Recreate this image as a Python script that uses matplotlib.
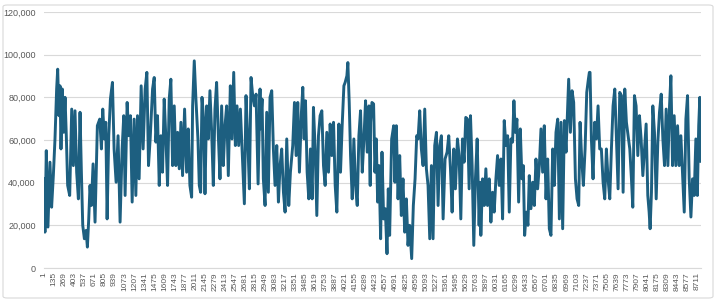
import matplotlib
matplotlib.use('Agg')
import matplotlib.pyplot as plt
from matplotlib.patches import FancyBboxPatch
from matplotlib.ticker import FuncFormatter

plt.rcParams['font.family'] = ['Liberation Sans', 'DejaVu Sans']

# hourly series (hour index, value in thousands)
hours = [1, 13, 31, 53, 80, 102, 125, 147, 169, 183, 200, 214, 227, 245, 263, 281, 298, 316, 343, 370,
         392, 414, 436, 459, 481, 499, 517, 539, 561, 579, 597, 614, 632, 655, 681, 712, 744, 766, 784, 806,
         824, 842, 864, 886, 913, 935, 962, 988, 1015, 1042, 1064, 1082, 1109, 1131, 1153, 1176, 1202, 1225,
         1247, 1269, 1296, 1322, 1349, 1372, 1394,
         1416, 1448, 1470, 1492, 1514, 1537, 1559, 1581, 1603, 1626, 1648, 1670, 1692, 1715, 1737, 1759, 1782,
         1804, 1826, 1848, 1875, 1902, 1924, 1946, 1969, 1982, 2004, 2026, 2053, 2071, 2089, 2107, 2129, 2147,
         2169, 2191, 2213, 2236, 2258, 2280, 2302, 2325, 2347, 2369, 2391, 2414, 2436, 2458, 2485, 2507, 2530,
         2552, 2574, 2596, 2619, 2650, 2672, 2694, 2717, 2739, 2761, 2783, 2806, 2828, 2855, 2881,
         2885, 2908, 2925, 2948, 2970, 2992, 3014, 3037, 3059, 3081, 3104, 3126, 3148, 3170, 3193, 3215, 3237,
         3264, 3286, 3317, 3340, 3362, 3384, 3406, 3433, 3451, 3469, 3487, 3509, 3531, 3553, 3576, 3593, 3616,
         3638, 3660, 3682, 3705, 3727, 3749, 3771, 3794, 3816, 3838, 3861, 3883, 3905, 3932, 3954, 3976, 3999,
         4016, 4039, 4052, 4070, 4088, 4110, 4132, 4154, 4177, 4199, 4221, 4244, 4266, 4288, 4310, 4333, 4350,
         4355, 4373, 4395, 4413, 4431, 4449, 4467, 4489, 4507, 4529, 4551, 4574, 4591, 4609, 4636, 4663, 4680,
         4698, 4721, 4743, 4765, 4787, 4810, 4832, 4854, 4876, 4903, 4925, 4948, 4970, 4988, 5010, 5032, 5055,
         5077, 5099, 5121, 5144, 5166, 5188, 5210, 5233, 5255, 5277, 5299, 5322, 5348, 5375, 5397, 5420, 5442,
         5464, 5486, 5513, 5535, 5558, 5580, 5602, 5624, 5647, 5669, 5687, 5709, 5731, 5753, 5776, 5802, 5815,
         5825, 5848, 5870, 5892, 5914, 5937, 5959, 5981, 6003, 6026, 6048, 6070, 6093, 6115, 6137, 6159, 6182,
         6204, 6226, 6248, 6266, 6284, 6306, 6329, 6351, 6373, 6391, 6409, 6431, 6453, 6471, 6493, 6516, 6538,
         6560, 6582, 6605, 6627, 6649, 6671, 6694, 6716, 6738, 6760, 6783, 6805, 6827, 6850, 6872, 6894, 6916,
         6939, 6961, 6983, 6996, 7019, 7041, 7063, 7086, 7108, 7130, 7148, 7170, 7192, 7215, 7237, 7259, 7272,
         7281, 7299, 7321, 7343, 7366, 7388, 7410, 7432, 7455, 7477, 7499, 7521, 7544, 7566, 7588, 7611, 7633,
         7655, 7677, 7700, 7722, 7744, 7766, 7789, 7811, 7833, 7851, 7873, 7895, 7918, 7940, 7962, 7985, 8007,
         8029, 8051, 8069, 8082, 8100, 8118, 8140, 8163, 8185, 8207, 8230, 8252, 8274, 8296, 8319, 8341, 8359,
         8381, 8403, 8425, 8448, 8470, 8492, 8514, 8537, 8559, 8581, 8603, 8626, 8648, 8670, 8692, 8712, 8730,
         8745, 8760]

load_k = [41.8, 16.8, 55, 19.2, 49.6, 28.5, 43.3, 60.5, 83.9, 93.2, 71.4, 85.4, 55.8, 83.9, 63.6, 80, 62, 38.7, 34, 74.5,
          48, 73.7, 44.9, 32.4, 73, 44.9, 20, 13.7, 17.6, 9.8, 23, 38.7, 29.3, 48.8, 21.5, 66.7, 69.8, 55.8, 74.5, 60.5,
          68.3, 23, 62, 79.2, 87, 55.8, 40.2, 62, 21.5, 55.8, 71.4, 34, 77.6, 62, 71.4, 30.9, 69.8, 34,
          71.4, 41.8, 85.4, 55.8, 83.9, 91.7, 48,
          60.5, 83.9, 89.3, 59, 71.4, 38.7, 62, 44.9, 79.2, 60.5, 38.7, 79.2, 88.5, 48, 76, 48, 63.6,
          46.5, 68.3, 43.3, 74.5, 44.9, 65.2, 38.7, 33.2, 76, 97.1, 79.2, 60.5, 38.7, 35.5, 80, 69.8, 34.8,
          76, 60.5, 83.1, 63.6, 38.7, 74.5, 87, 62, 41.8, 76, 48, 66.7, 76, 43.3, 85.4, 60.5, 91.7,
          57.4, 76, 57.4, 74.5, 48, 30.1, 80.8, 60.5, 37.1, 89.3, 80.8, 76, 81.5, 39.4, 83.9,
          65.2, 79.2, 41.8, 29.3, 73, 35.5, 80, 83.1, 55.8, 38.7, 57.4, 30.9, 48, 55.8, 35.5, 26.2, 60.5,
          29.3, 44.9, 57.4, 77.6, 52.7, 77.6, 44.9, 73, 84.7, 60.5, 78.4, 44.9, 32.4, 55.8, 32.4, 75.3, 55.8,
          24.6, 62, 71.4, 73.7, 48, 38.7, 63.6, 44.9, 67.5, 52.7, 68.3, 38.7, 26.2, 67.5, 44.9, 66.7, 85.4,
          87, 90.1, 96.3, 77.6, 52.7, 32.4, 60.5, 38.7, 29.3, 62, 73.7, 44.9, 60.5, 78.4, 54.3, 76, 38.7,
          68.3, 77.6, 76.9, 44.9, 60.5, 30.9, 48, 13.7, 54.3, 23, 27.8, 6.7, 37.1, 15.3, 60.5, 66.7, 40.2,
          66.7, 32.4, 52.7, 24.6, 41.8, 16.8, 32.4, 10.6, 20, 4.4, 29.3, 41.8, 62, 60.5, 73.7, 55.8, 48,
          74.5, 46.5, 38.7, 13.7, 48, 13.7, 57.4, 63.6, 29.3, 57.4, 62, 23, 51.1, 54.3, 62, 46.5, 26.2,
          55.8, 37.1, 60.5, 52.7, 23, 60.5, 49.6, 70.6, 69.8, 37.1, 71.4, 48, 10.6, 41.8, 60.5, 20, 40.2,
          15.3, 41.8, 29.3, 46.5, 29.3, 41.8, 21.5, 35.5, 26.2, 41.8, 52.7, 38.7, 51.1, 23, 69.1, 57.4, 62,
          26.2, 60.5, 59, 78.4, 63.6, 69.8, 30.9, 65.2, 41.8, 48, 15.3, 26.2, 20, 43.3, 27.8, 40.2, 29.3,
          51.1, 37.1, 48, 65.2, 44.9, 66.7, 32.4, 51.1, 18.4, 15.3, 55.8, 38.7, 63.6, 69.8, 23, 68.3, 18.4,
          69.1, 54.3, 76, 88.5, 63.6, 83.1, 77.6, 41.8, 32.4, 29.3, 68.3, 51.1, 38.7, 55.8, 82.3, 88.5, 91.7,
          91.7, 60.5, 41.8, 68.3, 60.5, 76, 55.8, 55.8, 40.2, 32.4, 55.8, 41.8, 32.4, 55.8, 76, 83.9, 60.5,
          37.1, 82.3, 80.8, 35.5, 83.9, 68.3, 62, 55.8, 41.8, 28.5, 80.8, 76, 52.7, 71.4, 60.5, 43.3, 55.8,
          67.5, 34, 26.2, 18.4, 35.5, 76, 63.6, 32.4, 59, 73, 81.5, 60.5, 48, 74.5, 48, 76, 90.1,
          48, 71.4, 48, 66.7, 48, 62, 44.9, 26.2, 69.8, 80.8, 41.8, 23.9, 41.8, 34, 60.5, 34, 66.7,
          80, 50]

tick_hours = list(range(1, 8712, 134))
y_ticks = [0, 20000, 40000, 60000, 80000, 100000, 120000]
n_hours = 8760

fig = plt.figure(figsize=(7.2, 3.01), dpi=100)
ax = fig.add_axes([44 / 720, 1 - 268 / 301, (701 - 44) / 720, (268 - 12) / 301])

# outer chart border
border = FancyBboxPatch((3 / 720, 3 / 301), 710 / 720, 293 / 301,
                        boxstyle='round,pad=0,rounding_size=0.006',
                        transform=fig.transFigure, fc='none', ec='#d9d9d9', lw=0.8)
fig.patches.append(border)

ax.plot(hours, [v * 1000 for v in load_k], color='#1d5f80', lw=2.1)

ax.set_xlim(0.5, n_hours + 0.5)
ax.set_ylim(0, 120000)
ax.set_yticks(y_ticks)
ax.yaxis.set_major_formatter(FuncFormatter(lambda v, p: f'{v:,.0f}'))
ax.set_xticks(tick_hours)
ax.set_xticklabels([str(t) for t in tick_hours], rotation=90, fontsize=6)

ax.yaxis.grid(True, color='#d9d9d9', lw=0.8)
ax.set_axisbelow(True)
for s in ['top', 'right', 'left']:
    ax.spines[s].set_visible(False)
ax.spines['bottom'].set_color('#d9d9d9')
ax.tick_params(axis='both', length=0, colors='#595959')
ax.tick_params(axis='y', labelsize=6.5, pad=6)
ax.tick_params(axis='x', pad=3)

fig.savefig('out.png', dpi=100)
